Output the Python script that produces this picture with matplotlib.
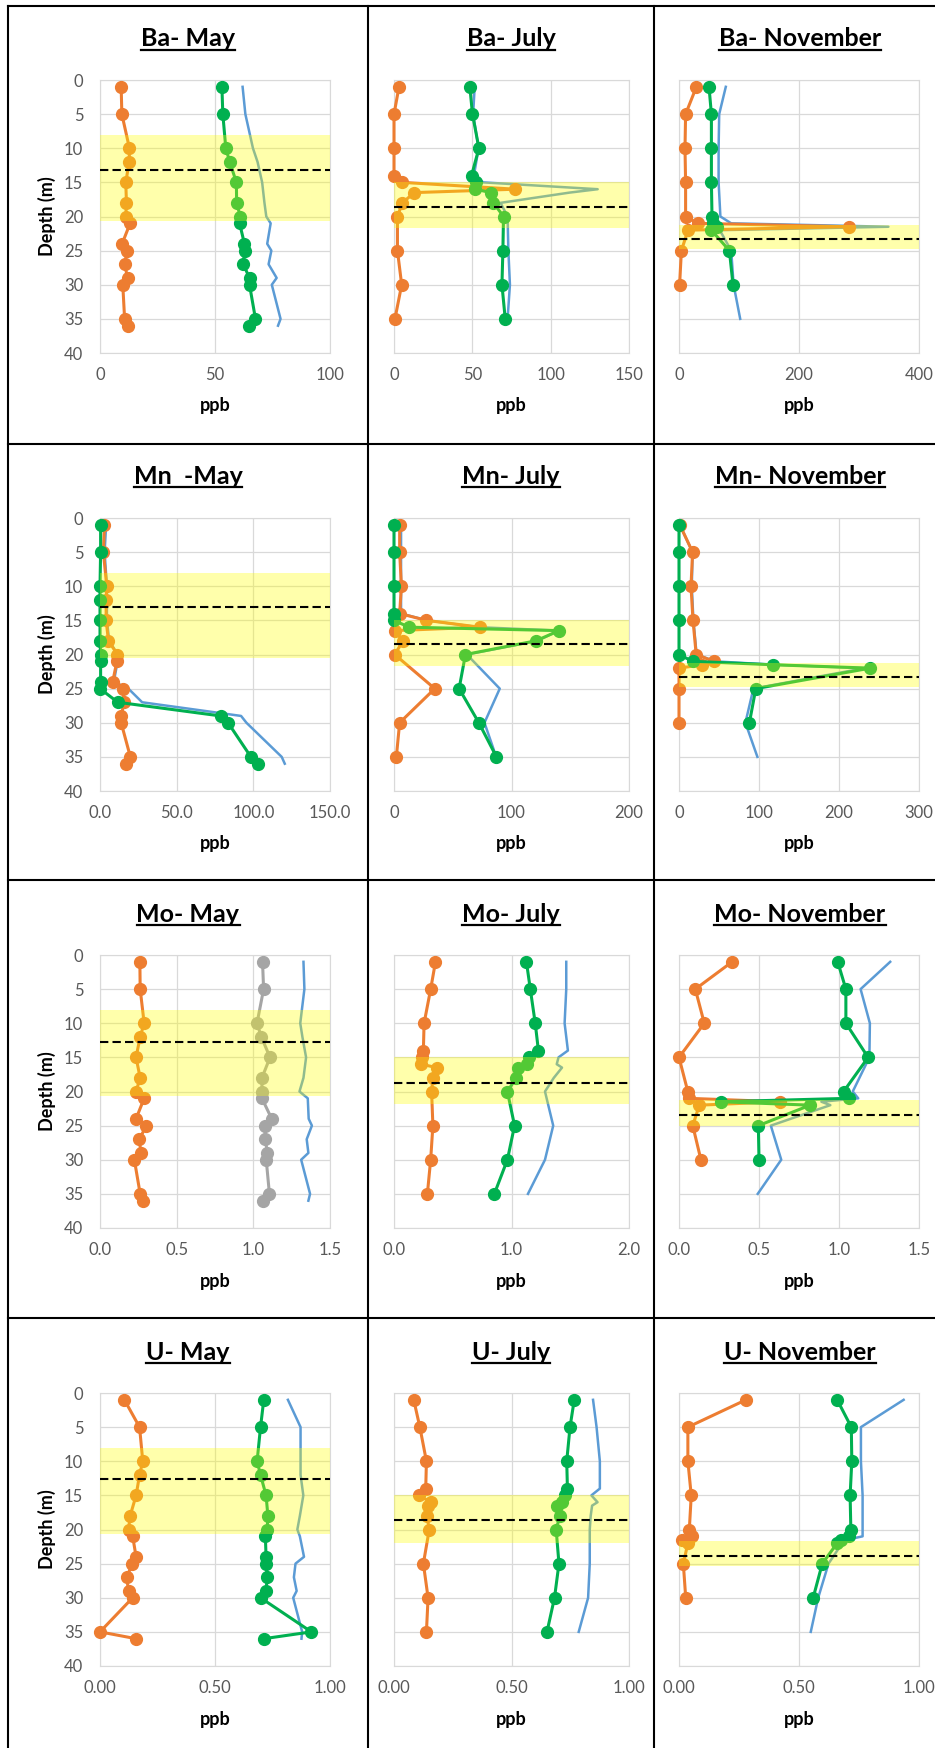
import matplotlib
matplotlib.use('Agg')
import matplotlib.pyplot as plt
from matplotlib.lines import Line2D

plt.rcParams['font.family'] = ['Lato', 'DejaVu Sans']

# depths (m) of the samples
may_depth = [1, 5, 10, 12, 15, 18, 20, 21, 24, 25, 27, 29, 30, 35, 36]
jul_depth = [1, 5, 10, 14, 15, 16, 16.5, 18, 20, 25, 30, 35]
nov_depth = [1, 5, 10, 15, 20, 21, 21.5, 22, 25, 30]
nov_depth_blue = [1, 5, 10, 15, 20, 21, 21.5, 22, 25, 30, 35]

# Ba
ba_may_orange = [9.2, 9.5, 12.8, 12.7, 11.2, 11.5, 11.2, 13.1, 9.6, 11.8, 10.7, 12.0, 9.9, 10.7, 12.0]
ba_may_green = [53.0, 53.4, 54.7, 56.4, 59.3, 59.4, 61.0, 60.7, 62.8, 62.9, 62.3, 65.0, 65.0, 67.6, 64.7]
ba_may_blue = [62.0, 63.2, 66.5, 68.5, 70.5, 71.5, 72.3, 74.2, 72.7, 74.5, 73.3, 76.8, 74.7, 78.5, 77.4]
ba_jul_orange = [3.2, 0.0, 0.0, 0.0, 5.4, 77.5, 12.9, 5.4, 2.2, 2.2, 4.9, 0.6]
ba_jul_green = [48.4, 50.1, 54.2, 49.5, 52.5, 52.0, 61.8, 63.5, 69.9, 69.5, 68.9, 71.0]
ba_jul_blue = [51.5, 50.5, 54.0, 51.0, 57.0, 130.0, 112.0, 68.0, 72.5, 73.0, 74.0, 72.5]
ba_nov_orange = [29, 11, 10, 11, 11, 31, 283, 15, 4, 1]
ba_nov_green = [50, 54, 54, 54, 55, 57, 63, 54, 84, 90]
ba_nov_blue = [78, 67, 66, 66, 69, 87, 349, 68, 87, 91, 102]

# Mn
mn_may_orange = [2.9, 2.2, 4.4, 4.0, 4.0, 5.5, 11.4, 11.0, 8.3, 14.9, 15.8, 13.8, 13.8, 19.8, 17.1]
mn_may_green = [0.4, 0.4, 0.0, 0.0, 0.0, 0.0, 0.4, 0.4, 0.4, 0.0, 11.6, 78.6, 83.5, 98.4, 102.8]
mn_may_blue = [4.0, 3.0, 4.5, 4.5, 4.5, 6.0, 11.5, 11.5, 9.0, 18.5, 27.5, 92.0, 95.5, 118.5, 120.5]
mn_jul_orange = [4.8, 4.8, 6.3, 4.8, 27.6, 73.0, 0.6, 7.7, 0.6, 34.7, 4.8, 2.0]
mn_jul_green = [0.0, 0.0, 0.0, 0.0, 0.0, 12.8, 140.6, 120.7, 60.8, 55.4, 72.2, 87.2]
mn_jul_blue = [6, 6, 6, 6, 28, 72, 140, 122, 62, 90, 77, 87]
mn_nov_orange = [1, 17, 15, 17.5, 21.5, 43.5, 29, 0, 0, 0]
mn_nov_green = [0, 0, 0, 0, 0, 17, 117, 239, 96, 88]
mn_nov_blue = [1, 17, 16, 18, 22, 45, 118, 232, 93, 83, 98]

# Mo
mo_may_orange = [0.260, 0.262, 0.288, 0.262, 0.235, 0.262, 0.235, 0.288, 0.235, 0.303, 0.256, 0.267, 0.224, 0.262, 0.282]
mo_may_gray = [1.060, 1.067, 1.024, 1.052, 1.109, 1.056, 1.056, 1.056, 1.120, 1.077, 1.077, 1.092, 1.084, 1.105, 1.062]
mo_may_blue = [1.327, 1.333, 1.306, 1.320, 1.344, 1.327, 1.301, 1.355, 1.361, 1.382, 1.348, 1.359, 1.312, 1.370, 1.359]
mo_jul_orange = [0.353, 0.312, 0.256, 0.250, 0.242, 0.234, 0.362, 0.331, 0.320, 0.331, 0.312, 0.284]
mo_jul_green = [1.127, 1.160, 1.202, 1.229, 1.152, 1.132, 1.057, 1.040, 0.965, 1.026, 0.965, 0.854]
mo_jul_blue = [1.466, 1.466, 1.452, 1.480, 1.400, 1.385, 1.430, 1.360, 1.285, 1.355, 1.285, 1.140]
mo_nov_orange = [0.332, 0.102, 0.158, 0.0, 0.055, 0.061, 0.629, 0.127, 0.086, 0.137]
mo_nov_green = [0.992, 1.043, 1.043, 1.182, 1.029, 1.064, 0.260, 0.820, 0.496, 0.500]
mo_nov_blue = [1.320, 1.135, 1.193, 1.190, 1.086, 1.120, 0.890, 0.946, 0.574, 0.639, 0.492]

# U
u_may_orange = [0.106, 0.172, 0.186, 0.172, 0.157, 0.131, 0.124, 0.142, 0.157, 0.141, 0.116, 0.124, 0.142, 0.0, 0.157]
u_may_green = [0.712, 0.698, 0.683, 0.698, 0.722, 0.730, 0.727, 0.719, 0.722, 0.722, 0.727, 0.722, 0.698, 0.919, 0.712]
u_may_blue = [0.817, 0.872, 0.872, 0.872, 0.884, 0.869, 0.858, 0.869, 0.887, 0.850, 0.843, 0.855, 0.840, 0.879, 0.876]
u_jul_orange = [0.084, 0.110, 0.138, 0.135, 0.106, 0.157, 0.145, 0.140, 0.150, 0.125, 0.145, 0.138]
u_jul_green = [0.767, 0.749, 0.735, 0.738, 0.727, 0.717, 0.695, 0.706, 0.690, 0.702, 0.683, 0.651]
u_jul_blue = [0.847, 0.862, 0.876, 0.876, 0.840, 0.866, 0.843, 0.837, 0.833, 0.833, 0.826, 0.786]
u_nov_orange = [0.279, 0.037, 0.037, 0.051, 0.043, 0.054, 0.011, 0.037, 0.018, 0.028]
u_nov_green = [0.659, 0.718, 0.720, 0.713, 0.716, 0.708, 0.677, 0.659, 0.597, 0.559]
u_nov_blue = [0.936, 0.758, 0.758, 0.765, 0.765, 0.765, 0.700, 0.680, 0.623, 0.580, 0.549]

# yellow band (top, bottom) and dashed line depth, per panel
bands = [(8.0, 20.6, 13.2), (15.0, 21.7, 18.6), (21.2, 24.8, 23.3),
         (8.0, 20.5, 13.0), (14.9, 21.7, 18.4), (21.2, 24.8, 23.3),
         (8.0, 20.6, 12.8), (15.0, 21.9, 18.7), (21.3, 25.0, 23.4),
         (8.0, 20.6, 12.6), (15.0, 22.0, 18.6), (21.7, 25.4, 23.9)]

ORANGE = '#ED7D31'
GREEN = '#00B050'
GRAY = '#A5A5A5'
BLUE = '#5B9BD5'

panels = [
    ('Ba- May', may_depth, ba_may_orange, ba_may_green, GREEN, may_depth, ba_may_blue, [0, 50, 100], '{:.0f}'),
    ('Ba- July', jul_depth, ba_jul_orange, ba_jul_green, GREEN, jul_depth, ba_jul_blue, [0, 50, 100, 150], '{:.0f}'),
    ('Ba- November', nov_depth, ba_nov_orange, ba_nov_green, GREEN, nov_depth_blue, ba_nov_blue, [0, 200, 400], '{:.0f}'),
    ('Mn  -May', may_depth, mn_may_orange, mn_may_green, GREEN, may_depth, mn_may_blue, [0, 50, 100, 150], '{:.1f}'),
    ('Mn- July', jul_depth, mn_jul_orange, mn_jul_green, GREEN, jul_depth, mn_jul_blue, [0, 100, 200], '{:.0f}'),
    ('Mn- November', nov_depth, mn_nov_orange, mn_nov_green, GREEN, nov_depth_blue, mn_nov_blue, [0, 100, 200, 300], '{:.0f}'),
    ('Mo- May', may_depth, mo_may_orange, mo_may_gray, GRAY, may_depth, mo_may_blue, [0, 0.5, 1.0, 1.5], '{:.1f}'),
    ('Mo- July', jul_depth, mo_jul_orange, mo_jul_green, GREEN, jul_depth, mo_jul_blue, [0, 1.0, 2.0], '{:.1f}'),
    ('Mo- November', nov_depth, mo_nov_orange, mo_nov_green, GREEN, nov_depth_blue, mo_nov_blue, [0, 0.5, 1.0, 1.5], '{:.1f}'),
    ('U- May', may_depth, u_may_orange, u_may_green, GREEN, may_depth, u_may_blue, [0, 0.5, 1.0], '{:.2f}'),
    ('U- July', jul_depth, u_jul_orange, u_jul_green, GREEN, jul_depth, u_jul_blue, [0, 0.5, 1.0], '{:.2f}'),
    ('U- November', nov_depth, u_nov_orange, u_nov_green, GREEN, nov_depth_blue, u_nov_blue, [0, 0.5, 1.0], '{:.2f}'),
]

W, H = 935, 1748
col_x = [(100, 330), (394, 629), (679, 919)]
row_y = [(80, 353), (518, 791), (955, 1228), (1393, 1666)]
cell_cx = [188, 511, 800]
title_y = [39, 476, 915, 1352]


def fx(x):
    return x / W


def fy(y):
    return 1 - y / H


fig = plt.figure(figsize=(W / 100, H / 100), dpi=100)

titles = []
for k, (title, depth, orange, other, other_col, bdepth, blue, xticks, fmt) in enumerate(panels):
    r, c = divmod(k, 3)
    x0, x1 = col_x[c]
    y0, y1 = row_y[r]
    ax = fig.add_axes([fx(x0), fy(y1), (x1 - x0) / W, (y1 - y0) / H])

    ax.plot(blue, bdepth, color=BLUE, lw=1.8, zorder=3, clip_on=False)
    ax.plot(orange, depth, 'o-', color=ORANGE, lw=2.2, ms=8.5, zorder=4, clip_on=False)
    ax.plot(other, depth, 'o-', color=other_col, lw=2.2, ms=8.5, zorder=5, clip_on=False)

    lo, hi, dash = bands[k]
    ax.axhspan(lo, hi, color='#FFFF00', alpha=0.33, lw=0, zorder=6)
    ax.axhline(dash, color='black', lw=1.5, ls=(0, (4, 2)), zorder=7)

    ax.set_ylim(40, 0)
    ax.set_yticks(range(0, 41, 5))
    ax.set_xlim(0, xticks[-1])
    ax.set_xticks(xticks)
    ax.set_xticklabels([fmt.format(t) for t in xticks])
    ax.grid(True, color='#D9D9D9', lw=0.9)
    ax.set_axisbelow(True)
    for sp in ax.spines.values():
        sp.set_color('#D9D9D9')
    ax.tick_params(length=0, labelsize=12, labelcolor='#595959')
    ax.tick_params(axis='x', pad=10)
    ax.tick_params(axis='y', pad=12)
    if c != 0:
        ax.tick_params(axis='y', labelleft=False)
    else:
        fig.text(fx(47), fy((y0 + y1) / 2), 'Depth (m)', rotation=90, fontsize=13,
                 fontweight='bold', ha='center', va='center')
    fig.text(fx((x0 + x1) / 2), fy(y1 + 53), 'ppb', fontsize=13, fontweight='bold',
             ha='center', va='center')

    t = fig.text(fx(cell_cx[c]), fy(title_y[r]), title, fontsize=18, fontweight='bold',
                 ha='center', va='center')
    titles.append(t)

# underline the titles
fig.canvas.draw()
rend = fig.canvas.get_renderer()
for t in titles:
    bb = t.get_window_extent(rend)
    fig.add_artist(Line2D([bb.x0 / W, bb.x1 / W], [(bb.y0 + 1) / H] * 2,
                          transform=fig.transFigure, color='black', lw=1.6))

# cell borders
for x in [8, 368, 654]:
    fig.add_artist(Line2D([fx(x)] * 2, [fy(6), fy(H)], transform=fig.transFigure, color='black', lw=1.5))
for y in [6, 444, 880, 1318]:
    fig.add_artist(Line2D([fx(8), fx(W)], [fy(y)] * 2, transform=fig.transFigure, color='black', lw=1.5))

fig.savefig('out.png', dpi=100)
